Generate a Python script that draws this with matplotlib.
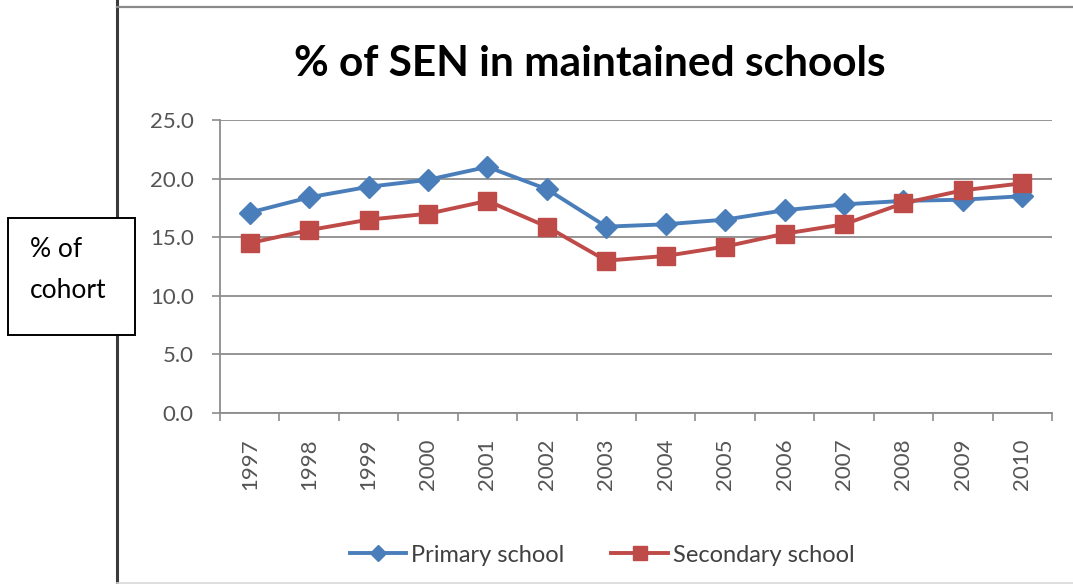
import matplotlib.pyplot as plt
from matplotlib.lines import Line2D
from matplotlib.patches import Rectangle

years = ['1997', '1998', '1999', '2000', '2001', '2002', '2003',
         '2004', '2005', '2006', '2007', '2008', '2009', '2010']
primary = [17.1, 18.4, 19.3, 19.9, 21.0, 19.1, 15.9,
           16.1, 16.5, 17.3, 17.8, 18.1, 18.2, 18.5]
secondary = [14.5, 15.6, 16.5, 17.0, 18.1, 15.9, 13.0,
             13.4, 14.2, 15.3, 16.1, 17.9, 19.0, 19.6]

plt.rcParams['font.family'] = ['Lato', 'DejaVu Sans']

W, H = 1073, 584
fig = plt.figure(figsize=(W / 100, H / 100), dpi=100)

# chart frame
fig.add_artist(Line2D([117 / W, 117 / W], [0, 1], color='#3a3a3a', lw=2.2))
fig.add_artist(Line2D([117 / W, 1], [1 - 7 / H, 1 - 7 / H], color='#8a8a8a', lw=1.6))
fig.add_artist(Line2D([117 / W, 1], [1 - 583 / H, 1 - 583 / H], color='#d9d9d9', lw=1.2))

ax = fig.add_axes([220 / W, 1 - 413 / H, 832 / W, 293 / H])
x = list(range(len(years)))
ax.plot(x, primary, color='#4A7EBB', lw=2.8, marker='D', ms=11,
        mfc='#4A7EBB', mec='#4A7EBB', label='Primary school', zorder=3)
ax.plot(x, secondary, color='#BE4B48', lw=2.8, marker='s', ms=12.5,
        mfc='#BE4B48', mec='#BE4B48', label='Secondary school', zorder=3)

ax.set_xlim(-0.5, len(years) - 0.5)
ax.set_ylim(0, 25)
ax.set_yticks([0, 5, 10, 15, 20, 25])
ax.set_yticklabels(['%.1f' % v for v in [0, 5, 10, 15, 20, 25]])
ax.set_xticks([i - 0.5 for i in range(len(years) + 1)])
ax.set_xticklabels([])
ax.set_xticks(x, minor=True)
ax.set_xticklabels(years, minor=True, rotation=90)
ax.tick_params(axis='x', which='minor', length=0, pad=18, labelsize=16, labelcolor='#555555')
ax.tick_params(axis='x', which='major', length=6, width=1.2, color='#8c8c8c')
ax.tick_params(axis='y', length=6, width=1.2, color='#8c8c8c', pad=13,
               labelsize=16, labelcolor='#555555')
ax.grid(axis='y', color='#8c8c8c', lw=1.3)
ax.set_axisbelow(True)
for side in ['top', 'right']:
    ax.spines[side].set_visible(False)
ax.spines['left'].set_color('#8c8c8c')
ax.spines['bottom'].set_color('#8c8c8c')
ax.spines['left'].set_linewidth(1.3)
ax.spines['bottom'].set_linewidth(1.3)

fig.text(590 / W, 1 - 76 / H, '% of SEN in maintained schools', ha='center',
         va='baseline', fontsize=30.5, fontweight='bold', color='black')

fig.legend(loc='center', bbox_to_anchor=(602 / W, 1 - 555 / H), ncol=2, frameon=False,
           fontsize=17, handlelength=2.4, columnspacing=2.0, handletextpad=0.2,
           labelcolor='#404040', markerscale=0.75)

# "% of cohort" box
fig.add_artist(Rectangle((8 / W, 1 - 335 / H), 127 / W, 117 / H, transform=fig.transFigure,
                         facecolor='white', edgecolor='black', lw=1.4, zorder=5))
fig.text(30 / W, 1 - 257 / H, '% of', fontsize=19, va='baseline', zorder=6)
fig.text(30 / W, 1 - 298 / H, 'cohort', fontsize=19, va='baseline', zorder=6)

fig.savefig('out.png', dpi=100)
